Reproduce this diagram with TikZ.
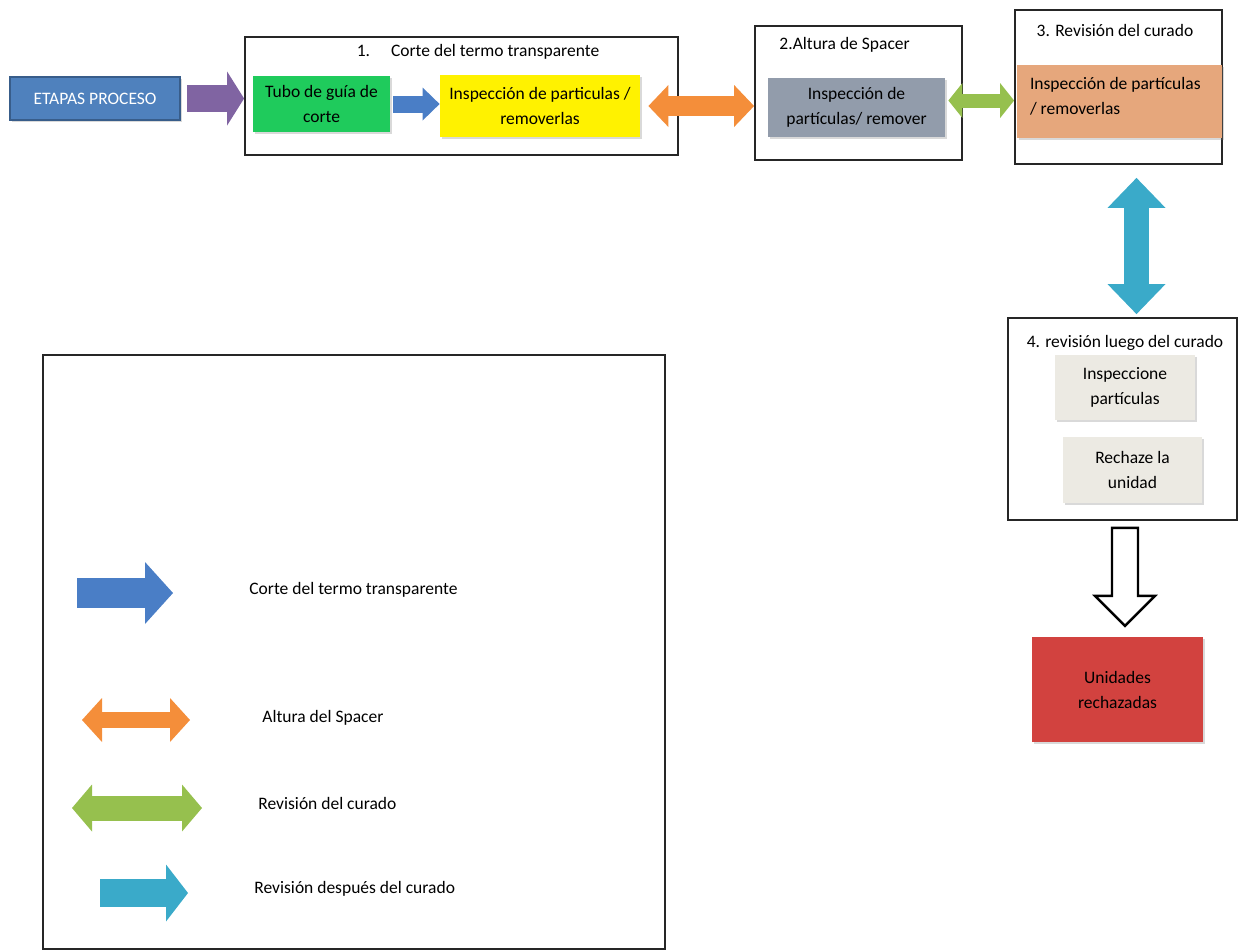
\documentclass[tikz,border=0pt]{standalone}
\usepackage{fontspec}
\setmainfont{Carlito}
\usetikzlibrary{arrows.meta,calc,shadows}
\definecolor{etapasblue}{HTML}{4F81BD}
\definecolor{etapasedge}{HTML}{385D8A}
\definecolor{procpurple}{HTML}{8064A2}
\definecolor{tubogreen}{HTML}{1FCB5C}
\definecolor{cutblue}{HTML}{4A7EC6}
\definecolor{spacerorange}{HTML}{F48E3A}
\definecolor{spacergray}{HTML}{929CAB}
\definecolor{curegreen}{HTML}{96C04E}
\definecolor{curetan}{HTML}{E6A77C}
\definecolor{aftercyan}{HTML}{3AAAC9}
\definecolor{paleboxes}{HTML}{ECEAE3}
\definecolor{rejectred}{HTML}{D2423F}
\begin{document}
\begin{tikzpicture}[x=0.5pt, y=-0.5pt,
    every node/.style={font=\fontsize{8.75}{12.5}\selectfont, inner sep=0pt},
    stage/.style={draw=black!85, line width=0.9pt, rectangle},
    card/.style={rectangle, align=center, drop shadow={opacity=0.3, shadow xshift=1pt, shadow yshift=-1.2pt}},
    blockarrow/.style n args={3}{line width=#1, -{Triangle[width=#2, length=#3, line width=0pt]}},
    dblarrow/.style n args={3}{line width=#1, {Triangle[width=#2, length=#3, line width=0pt]}-{Triangle[width=#2, length=#3, line width=0pt]}},
    hollowarrow/.style={draw=black, line width=1.2pt, fill=white, line join=miter}]
    \useasboundingbox (0,0) rectangle (1239,950);

    \node[card, fill=etapasblue, draw=etapasedge, line width=0.8pt, text=white, minimum width=85pt, minimum height=21.5pt] (etapas) at (95,98.5) {ETAPAS PROCESO};

    \node[stage, minimum width=216.5pt, minimum height=59pt] (box1) at (461.5,96) {};
    \node (t1) at (478,52) {1.\hspace{1.2em}Corte del termo transparente};
    \node[card, fill=tubogreen, minimum width=68.5pt, minimum height=28pt] (tubo) at (321.5,104) {Tubo de guía de\\corte};
    \node[card, fill=yellow, minimum width=100pt, minimum height=31pt] (insp1) at (540,106) {Inspección de particulas /\\removerlas};

    \node[stage, minimum width=103.5pt, minimum height=67pt] (box2) at (858.5,93) {};
    \node[anchor=west] (t2) at (779,45) {2.Altura de Spacer};
    \node[card, fill=spacergray, minimum width=88.5pt, minimum height=29.5pt] (insp2) at (856.5,107.5) {Inspección de\\partículas/ remover};

    \node[stage, minimum width=103.5pt, minimum height=77pt] (box3) at (1118.5,87) {};
    \node (t3) at (1115,30) {3. Revisión del curado};
    \node[card, fill=curetan, minimum width=102.5pt, minimum height=36.5pt] (insp3) at (1119.5,101.5) {};
    \node[anchor=north west, align=left] (insp3txt) at ([xshift=6.5pt, yshift=-6pt]insp3.north west) {Inspección de partículas\\/ removerlas};

    \node[stage, minimum width=114.5pt, minimum height=101pt] (box4) at (1122.5,419) {};
    \node (t4) at (1125,343) {4. revisión luego del curado};
    \node[card, fill=paleboxes, minimum width=70pt, minimum height=32.5pt] (inspp) at (1125,387.5) {Inspeccione\\partículas};
    \node[card, fill=paleboxes, minimum width=69.5pt, minimum height=33pt] (rechaze) at (1132.5,470) {Rechaze la\\unidad};

    \node[card, fill=rejectred, minimum width=85.5pt, minimum height=52.5pt] (reject) at (1117.5,689.5) {Unidades\\rechazadas};

    \draw[blockarrow={13.5pt}{27pt}{8.5pt}, procpurple, shorten <=3pt] (etapas.east) -- (etapas.east -| box1.west);
    \draw[blockarrow={8.5pt}{16.5pt}{8.5pt}, cutblue, shorten <=1.5pt] (tubo.east) -- (tubo.east -| insp1.west);
    \draw[dblarrow={10pt}{21pt}{10pt}, spacerorange, shorten <=4pt] (insp1.east) -- (insp1.east -| box2.west);
    \draw[dblarrow={7pt}{17.5pt}{7pt}, curegreen, shorten <=1.5pt] ([yshift=3.5pt]insp2.east) -- ([yshift=3.5pt]insp2.east -| box3.west);
    \coordinate (c3) at ([xshift=9pt]box3.south);
    \draw[dblarrow={12.5pt}{29pt}{15pt}, aftercyan, shorten <=6.5pt, shorten >=1.5pt] (c3) -- (c3 |- box4.north);
    \draw[hollowarrow] ($(box4.south)+(-10.5,7)$) -- ++(26,0) -- ++(0,68) -- ++(17,0) -- ++(-30,30) -- ++(-30,-30) -- ++(17,0) -- cycle;

    \node[stage, minimum width=311pt, minimum height=297pt] (legend) at (354,652) {};
    \coordinate (lcut1) at (77,593);   \coordinate (lcut2) at (173,593);
    \coordinate (lspa1) at (82,720);   \coordinate (lspa2) at (190,720);
    \coordinate (lcur1) at (72,808);   \coordinate (lcur2) at (202,808);
    \coordinate (laft1) at (100,893);  \coordinate (laft2) at (188,893);
    \draw[blockarrow={15pt}{31pt}{14pt}, cutblue] (lcut1) -- (lcut2);
    \draw[dblarrow={8pt}{22pt}{10pt}, spacerorange] (lspa1) -- (lspa2);
    \draw[dblarrow={12.5pt}{23.5pt}{10pt}, curegreen] (lcur1) -- (lcur2);
    \draw[blockarrow={14pt}{28.5pt}{11pt}, aftercyan] (laft1) -- (laft2);
    \node[anchor=west] (lcut) at (249,590) {Corte del termo transparente};
    \node[anchor=west] (lspa) at (262,718) {Altura del Spacer};
    \node[anchor=west] (lcur) at (258,803) {Revisión del curado};
    \node[anchor=west] (laft) at (254,889) {Revisión después del curado};
\end{tikzpicture}
\end{document}
